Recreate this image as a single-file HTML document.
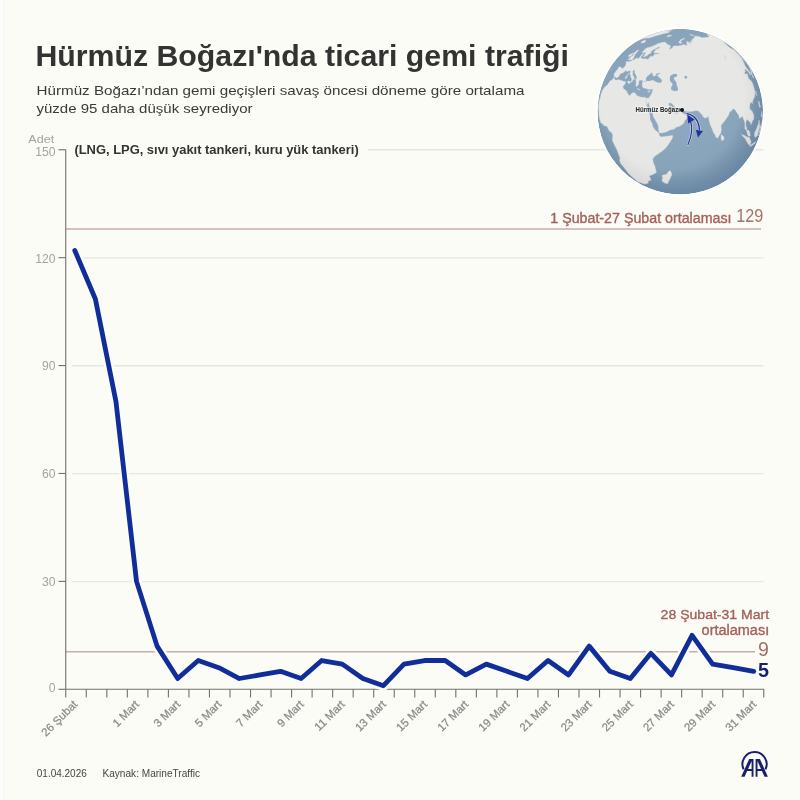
<!DOCTYPE html>
<html><head><meta charset="utf-8"><style>
html,body{margin:0;padding:0;background:#FBFCF5;}
body{width:800px;height:800px;overflow:hidden;position:relative;font-family:"Liberation Sans",sans-serif;}
svg{position:absolute;left:0;top:0;will-change:transform;}
text{font-family:"Liberation Sans",sans-serif;}
</style></head><body>
<svg width="800" height="800" viewBox="0 0 800 800">
<defs>
<radialGradient id="oc" cx="0.45" cy="0.42" r="0.6">
<stop offset="0" stop-color="#90ABC1"/><stop offset="0.7" stop-color="#88A4BB"/><stop offset="1" stop-color="#6F8EAB"/>
</radialGradient>
<radialGradient id="sh" cx="0.45" cy="0.42" r="0.58">
<stop offset="0.75" stop-color="#000" stop-opacity="0"/><stop offset="1" stop-color="#1a3550" stop-opacity="0.09"/>
</radialGradient>
<filter id="bl" x="-5%" y="-5%" width="110%" height="110%"><feGaussianBlur stdDeviation="0.45"/></filter>
<clipPath id="gc"><circle cx="680.25" cy="111.6" r="82.8"/></clipPath>
</defs>
<rect width="800" height="800" fill="#FBFCF5"/><rect width="3.2" height="800" fill="#FDFDFB"/><rect x="3.2" width="1.6" height="800" fill="#F7F8F4"/>
<text x="35.4" y="65.6" font-size="29.5" font-weight="bold" fill="#333" textLength="533.6" lengthAdjust="spacingAndGlyphs">Hürmüz Boğazı'nda ticari gemi trafiği</text>
<text x="36.5" y="94.9" font-size="13.2" fill="#3a3a3a" textLength="488" lengthAdjust="spacingAndGlyphs">Hürmüz Boğazı’ndan gemi geçişleri savaş öncesi döneme göre ortalama</text>
<text x="36.5" y="112.5" font-size="13.2" fill="#3a3a3a" textLength="216" lengthAdjust="spacingAndGlyphs">yüzde 95 daha düşük seyrediyor</text>

<g stroke="#E6E7E0" stroke-width="1.3"><line x1="72" y1="581.59" x2="763.5" y2="581.59"/><line x1="72" y1="473.68" x2="763.5" y2="473.68"/><line x1="72" y1="365.77" x2="763.5" y2="365.77"/><line x1="72" y1="257.86" x2="763.5" y2="257.86"/><line x1="368" y1="149.75" x2="763.5" y2="149.75"/></g>
<g stroke="#C7ADAB" stroke-width="1.5">
<line x1="66" y1="229" x2="761" y2="229"/>
<line x1="66" y1="651.8" x2="755" y2="651.8"/>
</g>

<g clip-path="url(#gc)">
<circle cx="680.25" cy="111.6" r="82.8" fill="url(#oc)"/>
<g filter="url(#bl)"><path d="M613.9,77.7 614.5,78.8 615.1,79.9 616.5,79.9 618.0,79.8 619.6,79.7 620.7,80.2 622.0,80.7 623.3,81.2 625.1,81.4 625.6,82.5 624.6,84.5 622.9,86.6 623.4,88.6 624.8,89.6 626.5,91.1 628.0,94.0 629.8,95.9 631.0,94.0 633.3,92.4 635.0,93.0 637.0,95.7 640.3,96.9 642.9,97.3 645.0,97.3 645.9,98.0 645.9,100.4 646.5,103.9 646.9,105.8 647.8,109.5 648.8,112.4 649.8,115.3 650.1,119.8 652.2,123.7 653.1,127.3 655.4,130.2 658.9,133.1 659.1,135.0 661.0,136.9 664.1,136.5 667.1,136.2 669.9,135.8 672.7,135.4 672.7,137.6 670.2,141.7 668.6,144.1 667.0,146.5 664.8,148.7 662.7,150.8 659.8,152.8 656.9,154.7 654.5,156.5 652.7,159.1 653.3,162.5 654.3,164.9 655.2,167.3 655.6,169.1 656.0,170.9 656.4,172.6 653.5,174.2 651.2,175.2 649.0,176.0 650.5,178.3 650.9,180.4 648.2,180.8 648.3,181.9 648.4,182.8 646.6,183.7 644.8,184.0 642.9,183.5 641.4,183.0 640.0,182.4 638.4,181.9 636.7,181.0 635.0,179.3 633.3,177.9 631.7,176.4 629.9,174.8 628.1,173.0 626.9,171.3 625.6,169.6 624.0,167.6 622.3,165.6 620.7,163.5 620.2,162.0 619.7,160.4 619.8,159.1 620.0,157.7 619.1,155.6 618.4,153.5 616.7,149.3 615.4,146.8 614.2,144.2 612.4,140.5 612.6,138.0 612.8,135.2 612.0,133.3 611.0,132.0 609.3,131.1 607.2,126.5 605.5,125.9 603.8,125.4 602.4,123.7 601.5,123.2 600.7,122.7 600.0,120.3 599.4,117.9 599.0,115.2 598.8,111.6 598.7,108.7 598.6,105.5 599.0,102.0 599.7,100.2 600.2,98.1 600.7,95.9 601.2,93.5 602.0,91.6 602.8,89.8 604.2,87.7 605.6,86.0 606.7,85.8 608.4,83.6 610.0,81.0 611.5,80.2 613.1,78.7Z M646.1,98.1 648.6,98.3 650.2,95.9 651.9,93.1 652.4,90.5 653.3,89.2 651.0,89.2 648.9,89.6 645.9,88.4 642.9,87.7 642.4,86.2 642.1,84.4 642.4,82.7 642.6,81.9 643.0,80.4 641.3,80.2 639.5,80.3 638.7,81.8 638.7,83.9 637.9,85.2 636.5,86.6 635.8,85.5 636.2,83.3 636.0,81.2 635.9,79.4 636.9,77.4 636.2,75.8 635.3,74.0 634.5,72.1 634.9,70.8 634.8,70.1 633.5,70.2 632.6,71.6 632.9,73.1 632.6,75.1 633.8,76.3 634.0,77.8 634.5,79.0 634.6,79.9 633.7,79.1 632.7,80.2 632.5,81.2 630.9,82.3 630.7,81.7 631.9,80.0 631.5,78.6 631.2,77.8 630.7,76.4 630.4,75.0 630.1,74.2 630.0,73.1 630.6,71.7 630.0,70.6 628.5,71.1 626.9,71.6 626.6,71.1 625.9,70.6 624.9,70.9 624.1,72.3 622.9,72.8 621.1,73.5 619.8,74.6 619.4,76.0 618.0,77.2 616.4,77.9 615.3,77.1 614.2,77.6 614.3,76.6 614.4,75.2 613.7,74.9 615.0,72.4 616.3,70.9 617.8,68.9 618.9,67.0 619.8,66.7 620.9,67.3 621.6,68.1 622.6,68.8 624.0,67.5 625.0,66.2 625.6,65.3 626.2,63.7 625.9,62.4 626.3,61.5 627.2,61.5 628.0,62.1 629.0,60.9 629.6,61.6 630.9,61.2 632.3,60.1 633.1,60.0 634.5,59.4 635.9,58.3 637.3,58.2 638.7,58.4 639.7,57.3 640.4,56.0 642.4,54.2 644.0,54.0 642.7,55.2 641.3,56.3 640.8,57.7 641.1,58.3 642.3,58.3 642.7,59.0 644.8,58.8 646.4,58.8 647.0,59.5 648.5,59.0 649.8,57.1 651.1,55.9 652.1,56.8 653.5,55.7 654.9,54.1 656.3,54.1 657.7,54.1 659.2,54.1 658.5,53.2 656.7,52.9 655.5,53.0 654.2,53.1 654.1,51.8 655.8,49.6 657.4,48.9 658.9,48.3 660.3,47.0 659.3,47.0 658.4,47.0 656.2,48.4 654.1,49.2 651.9,50.7 651.1,51.8 651.0,53.1 648.7,54.0 647.1,55.7 644.8,56.6 643.3,57.1 644.3,55.7 644.9,54.1 645.9,52.5 645.2,52.3 643.0,53.1 642.3,52.8 642.9,51.5 644.2,50.0 646.1,48.3 648.1,47.6 650.4,47.0 653.2,45.9 656.3,44.5 658.0,43.5 659.3,43.2 660.6,42.8 661.9,42.6 663.1,42.3 664.1,42.2 665.1,42.0 665.9,42.7 666.6,43.5 667.5,44.3 668.2,44.6 668.9,45.0 669.6,45.4 670.3,45.7 670.5,47.6 669.8,47.6 669.4,49.5 670.9,48.8 672.4,48.0 673.1,46.2 674.4,46.0 675.6,45.7 676.6,45.9 677.6,46.0 678.7,46.1 679.6,45.6 680.7,45.5 681.8,45.4 683.2,44.5 684.1,44.7 685.0,44.9 686.0,45.2 687.3,45.4 686.8,43.9 686.8,41.3 687.9,41.8 689.1,42.4 690.9,44.7 690.3,43.0 689.8,41.4 690.7,41.6 691.7,41.8 692.7,42.0 691.3,40.3 691.8,40.0 692.2,39.6 692.6,39.3 692.9,38.9 693.2,38.6 693.5,38.2 693.7,38.0 694.0,37.7 694.2,37.5 694.4,37.2 694.5,37.0 694.7,36.7 694.8,36.5 694.9,36.0 695.7,36.1 696.4,36.2 697.2,36.3 698.0,36.3 698.7,36.4 702.4,37.8 702.9,37.8 703.4,37.7 703.8,37.6 704.3,37.5 704.7,37.5 705.2,37.4 705.6,37.3 706.0,37.2 706.7,37.2 707.3,37.2 708.0,37.2 708.2,37.1 708.5,37.0 708.9,36.7 709.2,36.4 708.8,36.1 708.5,35.8 708.0,35.5 707.6,35.1 707.2,34.8 706.7,34.6 707.2,34.6 707.7,34.6 708.1,34.6 708.5,34.6 708.9,34.6 709.5,34.6 709.2,34.4 708.8,34.2 708.5,34.0 708.1,33.8 707.7,33.6 707.2,33.4 707.6,33.5 708.1,33.6 708.4,33.7 710.8,34.6 712.5,35.3 713.5,35.8 714.5,36.2 715.6,36.7 716.6,37.2 717.6,37.7 718.6,38.2 719.3,38.6 720.0,39.0 720.7,39.4 721.4,39.8 723.4,40.9 725.3,42.1 727.2,43.4 729.0,44.7 730.9,46.1 732.7,47.5 731.1,46.3 729.5,45.1 727.9,44.0 726.2,42.9 723.5,41.2 723.8,41.5 724.0,41.8 724.3,42.1 724.5,42.4 725.0,42.9 725.5,43.5 726.0,44.0 726.4,44.6 728.1,46.0 729.8,47.5 731.5,49.1 732.4,49.4 733.2,49.6 735.0,51.1 736.7,52.7 738.9,55.0 741.1,57.5 741.9,58.8 742.6,60.1 743.3,61.5 744.0,62.9 744.7,64.7 746.4,67.7 748.2,70.1 750.7,73.6 750.6,75.3 748.3,71.7 746.6,70.3 745.6,69.6 744.4,69.5 745.6,71.6 745.0,72.3 744.3,72.9 745.4,74.1 746.7,73.9 747.3,73.4 747.8,76.1 748.7,78.5 751.3,81.1 752.8,83.7 754.0,87.8 755.0,92.1 754.9,94.3 754.7,96.5 753.7,98.8 752.6,101.3 752.3,103.8 751.3,102.3 750.2,103.1 749.7,106.2 749.7,108.9 752.3,111.5 753.1,113.5 753.8,115.5 753.8,118.9 752.5,120.9 750.9,124.8 750.4,122.4 749.0,121.3 748.0,120.3 746.8,119.5 746.0,121.4 745.6,124.9 746.5,127.6 747.1,130.4 748.8,130.2 749.8,132.5 750.2,134.4 750.2,135.9 748.4,136.2 747.6,134.6 746.9,132.0 746.2,130.1 744.8,128.5 744.9,126.1 744.7,122.1 743.2,118.5 742.7,116.2 741.1,117.2 739.5,118.4 738.8,115.2 736.3,111.7 734.9,109.5 732.9,108.8 731.4,111.0 729.6,111.9 728.7,115.0 726.5,118.3 725.0,120.4 722.3,123.7 720.9,125.8 721.4,129.1 720.9,132.6 720.2,134.0 718.6,136.2 717.6,138.2 715.8,137.0 715.4,135.5 713.4,132.4 712.3,129.2 711.1,126.8 710.2,124.3 709.1,120.9 708.8,118.2 708.3,116.3 706.7,117.6 705.1,118.2 702.6,116.3 702.8,115.4 701.2,113.7 698.9,111.6 698.1,110.8 694.9,110.8 691.4,111.6 688.6,111.4 684.3,110.9 683.0,108.8 681.5,108.1 678.6,109.1 675.6,107.5 673.6,105.6 672.5,104.3 670.4,102.8 669.5,103.1 668.5,103.8 669.3,105.8 671.1,108.2 671.7,109.7 672.2,111.9 673.4,110.0 673.9,111.4 673.5,112.7 675.3,113.4 677.8,113.5 678.6,113.0 680.1,111.5 681.1,110.6 681.7,109.5 681.7,111.1 682.1,113.0 685.4,114.5 687.4,116.5 686.2,119.2 684.8,120.5 684.0,122.8 682.0,124.7 679.0,126.4 675.9,127.3 674.5,129.0 670.7,129.8 668.9,130.6 667.2,131.7 662.9,132.7 662.0,133.0 659.5,132.9 659.0,131.5 658.4,128.8 658.3,125.7 656.7,122.5 654.5,118.6 653.3,116.7 652.8,113.9 651.4,111.0 650.3,108.1 648.9,104.3 648.9,101.6 647.8,104.1 647.4,104.4 646.4,102.1 645.9,100.4Z M627.7,59.3 628.8,59.6 630.1,59.7 631.2,59.9 632.1,59.8 632.2,59.2 633.1,58.8 634.2,57.7 633.6,57.2 634.2,56.4 634.7,55.1 635.8,53.5 636.4,52.6 638.1,51.5 637.2,51.2 638.8,50.3 638.1,49.9 636.4,50.9 635.2,51.9 634.1,53.1 633.6,53.9 633.8,54.5 632.6,56.0 631.8,55.7 630.9,57.0 629.7,57.5 630.3,58.3 629.6,58.3Z M628.0,56.4 628.9,56.5 629.8,56.6 631.3,55.4 632.9,54.2 633.6,53.1 633.1,52.9 631.7,53.7 630.3,54.2 628.6,55.5Z M641.0,42.8 641.3,42.0 642.9,40.9 645.1,40.0 645.2,40.3 645.4,40.5 645.6,40.8 645.9,41.1 644.9,42.2 643.1,43.0 642.2,43.1 641.3,43.1Z M669.9,170.6 671.1,171.9 671.9,174.7 671.1,176.3 670.4,177.8 669.8,179.2 669.1,180.5 668.4,181.8 667.7,183.8 664.8,183.1 662.4,181.6 661.9,179.8 662.8,178.1 661.9,175.5 664.1,174.7 666.5,174.4 667.9,172.3Z M721.3,134.6 723.3,136.2 724.2,138.4 723.2,140.3 721.6,140.5 721.1,138.4 721.2,135.9Z M741.7,134.5 744.6,135.5 747.0,137.1 748.4,137.3 749.6,137.5 750.2,139.7 751.1,141.6 750.3,144.8 749.3,145.2 747.7,143.3 746.4,140.9 745.0,138.2 742.8,136.4Z M750.4,144.9 751.5,144.4 752.5,143.8 753.4,143.2 754.8,141.9 755.6,141.7 755.2,143.0 754.3,143.8 753.3,144.6 752.4,145.2 751.4,145.9 749.6,146.5Z M759.0,120.0 758.4,123.7 757.5,126.1 756.6,128.4 755.6,130.8 754.5,132.4 754.5,135.6 755.1,137.4 756.0,136.8 756.8,136.2 757.5,135.8 758.1,132.8 759.0,130.0 759.7,127.1 759.7,125.3 759.5,123.6 759.3,120.3Z M761.8,122.5 761.3,124.1 760.7,125.6 760.1,127.1 760.1,128.9 759.3,132.2 758.6,135.5 759.0,134.8 759.8,131.2 760.0,132.2 760.5,129.7 760.9,127.2 761.4,124.5Z M758.4,100.8 758.9,105.0 759.6,107.6 760.3,107.0 760.8,106.3 759.7,105.6 759.4,102.3Z M761.9,111.1 762.3,114.0 762.0,116.3 761.6,116.6 761.1,116.8 761.5,113.8Z M755.6,90.8 756.3,93.3 756.9,95.8 756.2,94.7 755.7,92.2Z M745.4,61.6 746.3,62.5 748.5,65.5 750.6,68.5 751.3,70.3 752.4,73.0 752.1,73.2 751.7,73.4 751.8,74.4 750.8,71.7 750.5,70.3 750.0,69.0 748.9,66.7 747.3,64.1Z M751.8,74.4 752.4,76.2 753.8,78.3 753.4,76.7 752.3,74.7Z M741.4,56.9 742.2,57.3 742.9,57.8 744.7,60.2 745.1,61.0 745.5,61.8 743.7,59.7Z M731.5,48.0 733.5,49.4 735.3,50.9 737.1,52.4 738.8,54.0 740.4,55.6 740.9,56.3 739.3,54.7 737.7,53.2 736.0,51.8 734.3,50.4Z M681.4,43.5 680.4,43.3 679.5,43.0 678.7,42.7 679.5,40.9 680.5,40.1 681.3,39.2 681.9,39.1 682.4,38.9 683.0,38.7 683.5,38.6 684.0,38.4 684.5,38.2 685.0,38.0 684.4,38.8 683.9,39.1 683.3,39.4 682.7,39.7 682.0,40.1 681.3,40.9 680.5,41.8 681.9,43.1Z M666.7,36.9 667.6,36.0 668.5,35.2 669.0,35.2 669.5,35.2 670.0,35.2 670.5,35.2 670.8,35.3 671.1,35.5 671.4,35.6 671.7,35.8 670.9,36.0 670.1,36.3 669.1,36.5 668.1,36.7 667.4,36.8Z M693.7,36.0 692.4,35.6 691.1,35.2 689.9,34.8 689.7,34.5 690.5,34.6 691.2,34.8 692.0,34.9 692.7,35.0 693.5,35.2 693.6,35.5Z M637.5,41.1 638.2,40.5 639.0,40.0 639.8,39.5 641.9,38.3 644.1,37.2 647.8,35.5 650.5,34.7 651.8,34.2 653.0,33.7 655.2,33.1 658.1,32.2 658.9,32.0 659.6,31.8 660.3,31.6 661.0,31.4 661.7,31.2 662.4,31.0 663.7,30.8 665.0,30.5 666.5,30.3 667.1,30.4 667.5,30.4 667.9,30.5 668.5,30.6 668.3,30.8 668.1,31.1 668.4,31.3 668.8,31.4 669.1,31.4 669.4,31.4 669.8,31.5 670.2,31.5 669.9,31.7 669.7,31.8 669.5,32.0 669.2,32.1 668.8,32.3 668.5,32.4 668.2,32.6 668.0,32.8 667.7,32.9 666.5,33.1 665.3,33.3 662.2,34.0 659.2,34.9 656.1,35.7 653.8,36.4 650.9,37.6 649.7,37.8 648.5,38.1 648.0,38.1 647.5,38.0 647.0,38.0 646.3,38.1 645.6,38.2 645.0,38.3 644.4,38.3 643.8,38.4 643.3,38.5 640.9,39.4 638.6,40.5Z M665.7,30.2 666.4,30.2 667.1,30.1 667.7,30.2 668.0,30.3 668.4,30.3 668.7,30.3 669.2,30.4 669.6,30.4 670.1,30.5 670.4,30.4 670.7,30.4 670.9,30.3 671.2,30.2 671.5,30.2 671.9,30.0 672.2,29.9 672.5,29.8 672.8,29.7 672.6,29.5 670.5,29.5 669.3,29.6 668.0,29.8 667.4,29.9 666.8,30.0 666.3,30.1Z M646.3,36.1 647.9,35.4 649.6,34.7 651.2,34.1 652.8,33.5 654.4,32.9 656.0,32.4 657.7,31.9 659.4,31.5 660.2,31.3 661.0,31.1 661.8,30.9 662.5,30.7 663.3,30.5 662.5,30.7 661.4,31.0 660.3,31.2 659.2,31.5 657.9,31.9 656.6,32.2 655.3,32.6 653.7,33.2 652.2,33.7 649.3,34.8 648.3,35.2 647.3,35.6Z M650.6,90.9 649.7,91.7 648.2,92.3 647.4,91.7 648.5,91.2Z M637.2,88.5 640.2,89.6 639.7,90.0 637.4,89.1Z M630.7,81.7 629.5,83.6 629.0,84.0 627.3,81.8 628.0,81.1Z M627.5,75.4 626.0,78.7 625.1,78.5 626.2,76.1Z M629.2,72.8 627.7,75.1 627.8,74.0Z" fill="#E7E7E6" stroke="#DADADA" stroke-width="0.4"/>
<path d="M646.4,80.9 649.3,81.0 652.0,80.3 654.1,80.4 655.5,81.8 657.8,82.4 659.7,82.7 661.9,81.9 661.6,79.6 660.0,78.2 658.5,76.8 657.2,75.5 655.7,75.6 653.8,76.4 653.3,76.1 652.5,74.9 652.8,74.4 651.6,72.6 650.8,73.3 649.4,74.7 647.6,76.0 646.4,77.5 645.8,79.1Z M656.0,75.2 655.7,74.0 658.9,73.2 660.8,72.7 659.2,74.1 657.2,75.3Z M675.4,73.8 672.3,74.5 670.3,76.1 669.8,78.5 670.1,81.0 672.2,83.6 672.7,84.8 671.2,86.9 671.0,89.5 674.5,91.2 677.9,90.6 677.9,88.0 676.8,85.4 676.6,83.7 676.3,82.0 674.6,80.3 673.7,77.8 675.2,77.0 677.1,76.3 677.2,74.5Z M643.4,81.3 644.6,80.7 646.4,80.9 646.8,81.5 644.9,81.6Z M723.3,54.4 725.7,57.8 725.5,59.2 725.2,60.5 725.6,60.1 725.7,58.5 725.8,56.9Z M685.8,75.4 687.5,77.0 685.8,79.0 684.0,77.4Z" fill="#8FAAC0"/></g>
<circle cx="680.25" cy="111.6" r="82.8" fill="url(#sh)"/>
</g>
<circle cx="680.25" cy="111.6" r="83.6" fill="none" stroke="#fff" stroke-width="1.4"/>
<text x="635.5" y="111.8" font-size="6.3" font-weight="bold" fill="#222" stroke="#F4F6F7" stroke-opacity="0.6" stroke-width="2.4" stroke-linejoin="round" paint-order="stroke" textLength="44.5" lengthAdjust="spacingAndGlyphs">Hürmüz Boğazı</text>
<circle cx="682" cy="109.9" r="2" fill="#111"/>
<g fill="none" stroke="#fff" stroke-opacity="0.45" stroke-linecap="round">
<path d="M688,144.5 Q693.8,131 690.6,121.5" stroke-width="2.6"/>
<path d="M687.2,113.6 Q699,116.5 699.4,130.2" stroke-width="2.8"/>
</g>
<g fill="none" stroke="#22309C" stroke-linecap="round">
<path d="M688,144.5 Q693.8,131 690.6,121.5" stroke-width="1.1"/>
<path d="M687.2,113.6 Q699,116.5 699.4,130.2" stroke-width="1.3"/>
</g>
<path d="M687.3,114.6 L688.2,123.4 L694.6,119.5 Z" fill="#22309C"/>
<path d="M698,137.6 L695.9,129.9 L702.9,130.9 Z" fill="#22309C"/>
<text x="74.4" y="154.4" font-size="13" font-weight="bold" fill="#333" textLength="284.3" lengthAdjust="spacingAndGlyphs">(LNG, LPG, sıvı yakıt tankeri, kuru yük tankeri)</text>
<text x="28.3" y="142.6" font-size="11.8" fill="#A4A4A4" textLength="26" lengthAdjust="spacingAndGlyphs">Adet</text>
<g font-size="12.2" fill="#A4A4A4" text-anchor="end"><text x="55.6" y="691.80">0</text><text x="55.6" y="586.00">30</text><text x="55.6" y="478.20">60</text><text x="55.6" y="370.00">90</text><text x="55.6" y="263.20">120</text><text x="55.6" y="155.80">150</text></g>
<g stroke="#707070" stroke-width="1.1"><line x1="58.5" y1="689.30" x2="65.75" y2="689.30"/><line x1="58.5" y1="581.39" x2="65.75" y2="581.39"/><line x1="58.5" y1="473.48" x2="65.75" y2="473.48"/><line x1="58.5" y1="365.57" x2="65.75" y2="365.57"/><line x1="58.5" y1="257.66" x2="65.75" y2="257.66"/><line x1="58.5" y1="149.75" x2="65.75" y2="149.75"/><line x1="65.75" y1="149.7" x2="65.75" y2="689.3"/><line x1="65.75" y1="689.3" x2="764" y2="689.3"/><line x1="65.75" y1="689.3" x2="65.75" y2="697.5"/><line x1="86.28" y1="689.3" x2="86.28" y2="697.5"/><line x1="106.81" y1="689.3" x2="106.81" y2="697.5"/><line x1="127.34" y1="689.3" x2="127.34" y2="697.5"/><line x1="147.87" y1="689.3" x2="147.87" y2="697.5"/><line x1="168.40" y1="689.3" x2="168.40" y2="697.5"/><line x1="188.93" y1="689.3" x2="188.93" y2="697.5"/><line x1="209.46" y1="689.3" x2="209.46" y2="697.5"/><line x1="229.99" y1="689.3" x2="229.99" y2="697.5"/><line x1="250.52" y1="689.3" x2="250.52" y2="697.5"/><line x1="271.05" y1="689.3" x2="271.05" y2="697.5"/><line x1="291.58" y1="689.3" x2="291.58" y2="697.5"/><line x1="312.11" y1="689.3" x2="312.11" y2="697.5"/><line x1="332.64" y1="689.3" x2="332.64" y2="697.5"/><line x1="353.17" y1="689.3" x2="353.17" y2="697.5"/><line x1="373.70" y1="689.3" x2="373.70" y2="697.5"/><line x1="394.23" y1="689.3" x2="394.23" y2="697.5"/><line x1="414.76" y1="689.3" x2="414.76" y2="697.5"/><line x1="435.29" y1="689.3" x2="435.29" y2="697.5"/><line x1="455.82" y1="689.3" x2="455.82" y2="697.5"/><line x1="476.35" y1="689.3" x2="476.35" y2="697.5"/><line x1="496.88" y1="689.3" x2="496.88" y2="697.5"/><line x1="517.41" y1="689.3" x2="517.41" y2="697.5"/><line x1="537.94" y1="689.3" x2="537.94" y2="697.5"/><line x1="558.47" y1="689.3" x2="558.47" y2="697.5"/><line x1="579.00" y1="689.3" x2="579.00" y2="697.5"/><line x1="599.53" y1="689.3" x2="599.53" y2="697.5"/><line x1="620.06" y1="689.3" x2="620.06" y2="697.5"/><line x1="640.59" y1="689.3" x2="640.59" y2="697.5"/><line x1="661.12" y1="689.3" x2="661.12" y2="697.5"/><line x1="681.65" y1="689.3" x2="681.65" y2="697.5"/><line x1="702.18" y1="689.3" x2="702.18" y2="697.5"/><line x1="722.71" y1="689.3" x2="722.71" y2="697.5"/><line x1="743.24" y1="689.3" x2="743.24" y2="697.5"/><line x1="763.77" y1="689.3" x2="763.77" y2="697.5"/></g>
<g font-size="11.3" fill="#8A8A8A" stroke="#8A8A8A" stroke-width="0.25" text-anchor="end"><text transform="translate(78.10,705.00) rotate(-45)" x="0" y="0">26 Şubat</text><text transform="translate(139.82,705.00) rotate(-45)" x="0" y="0">1 Mart</text><text transform="translate(180.98,705.00) rotate(-45)" x="0" y="0">3 Mart</text><text transform="translate(222.12,705.00) rotate(-45)" x="0" y="0">5 Mart</text><text transform="translate(263.27,705.00) rotate(-45)" x="0" y="0">7 Mart</text><text transform="translate(304.43,705.00) rotate(-45)" x="0" y="0">9 Mart</text><text transform="translate(345.57,705.00) rotate(-45)" x="0" y="0">11 Mart</text><text transform="translate(386.73,705.00) rotate(-45)" x="0" y="0">13 Mart</text><text transform="translate(427.88,705.00) rotate(-45)" x="0" y="0">15 Mart</text><text transform="translate(469.03,705.00) rotate(-45)" x="0" y="0">17 Mart</text><text transform="translate(510.18,705.00) rotate(-45)" x="0" y="0">19 Mart</text><text transform="translate(551.32,705.00) rotate(-45)" x="0" y="0">21 Mart</text><text transform="translate(592.47,705.00) rotate(-45)" x="0" y="0">23 Mart</text><text transform="translate(633.62,705.00) rotate(-45)" x="0" y="0">25 Mart</text><text transform="translate(674.77,705.00) rotate(-45)" x="0" y="0">27 Mart</text><text transform="translate(715.92,705.00) rotate(-45)" x="0" y="0">29 Mart</text><text transform="translate(757.07,705.00) rotate(-45)" x="0" y="0">31 Mart</text></g>

<polyline points="74.80,250.47 95.38,299.03 115.95,401.54 136.52,581.39 157.10,646.14 177.68,678.51 198.25,660.52 218.82,667.72 239.40,678.51 259.97,674.91 280.55,671.31 301.12,678.51 321.70,660.52 342.27,664.12 362.85,678.51 383.43,685.70 404.00,664.12 424.57,660.52 445.15,660.52 465.73,674.91 486.30,664.12 506.88,671.31 527.45,678.51 548.02,660.52 568.60,674.91 589.17,646.14 609.75,671.31 630.32,678.51 650.90,653.33 671.47,674.91 692.05,635.34 712.62,664.12 733.20,667.72 753.77,671.31" fill="none" stroke="#FBFCF5" stroke-width="10" stroke-linejoin="round" stroke-linecap="round"/>
<polyline points="74.80,250.47 95.38,299.03 115.95,401.54 136.52,581.39 157.10,646.14 177.68,678.51 198.25,660.52 218.82,667.72 239.40,678.51 259.97,674.91 280.55,671.31 301.12,678.51 321.70,660.52 342.27,664.12 362.85,678.51 383.43,685.70 404.00,664.12 424.57,660.52 445.15,660.52 465.73,674.91 486.30,664.12 506.88,671.31 527.45,678.51 548.02,660.52 568.60,674.91 589.17,646.14 609.75,671.31 630.32,678.51 650.90,653.33 671.47,674.91 692.05,635.34 712.62,664.12 733.20,667.72 753.77,671.31" fill="none" stroke="#112D99" stroke-width="4.8" stroke-linejoin="round" stroke-linecap="round"/>

<text x="550.3" y="222.5" font-size="14" fill="#A5605A" stroke="#A5605A" stroke-width="0.35" textLength="181.2" lengthAdjust="spacingAndGlyphs">1 Şubat-27 Şubat ortalaması</text>
<text x="736.3" y="222.4" font-size="19.2" fill="#A56F6B" textLength="27" lengthAdjust="spacingAndGlyphs">129</text>
<text x="660.6" y="618.7" font-size="13.6" fill="#A5605A" stroke="#A5605A" stroke-width="0.35" textLength="108.6" lengthAdjust="spacingAndGlyphs">28 Şubat-31 Mart</text>
<text x="701.6" y="634.6" font-size="13.8" fill="#A5605A" stroke="#A5605A" stroke-width="0.35" textLength="67.6" lengthAdjust="spacingAndGlyphs">ortalaması</text>
<text x="768.9" y="656" font-size="19.6" fill="#A56F6B" text-anchor="end">9</text>
<text x="768.9" y="676.6" font-size="19.8" font-weight="bold" fill="#161F72" text-anchor="end">5</text>

<text x="36.8" y="777" font-size="10.3" fill="#444" textLength="50" lengthAdjust="spacingAndGlyphs">01.04.2026</text>
<text x="102.5" y="777" font-size="10.3" fill="#444" textLength="97.5" lengthAdjust="spacingAndGlyphs">Kaynak: MarineTraffic</text>
<path d="M743.62,769.4 A12.1,12.1 0 1 1 765.48,769.4" fill="none" stroke="#1B1F6E" stroke-width="2"/>
<path fill-rule="evenodd" fill="#1B1F6E" d="M741.2,776.8 L749.2,758.9 L753.5,758.9 L753.5,776.8 L751.6,776.8 L751.6,771.1 L747.15,771.1 L744.6,776.8 Z M751.6,761.1 L751.6,769 L748.1,769 Z M767.9,776.8 L759.9,758.9 L755.6,758.9 L755.6,776.8 L757.5,776.8 L757.5,771.1 L761.95,771.1 L764.5,776.8 Z M757.5,761.1 L757.5,769 L761,769 Z"/>
</svg>
</body></html>
